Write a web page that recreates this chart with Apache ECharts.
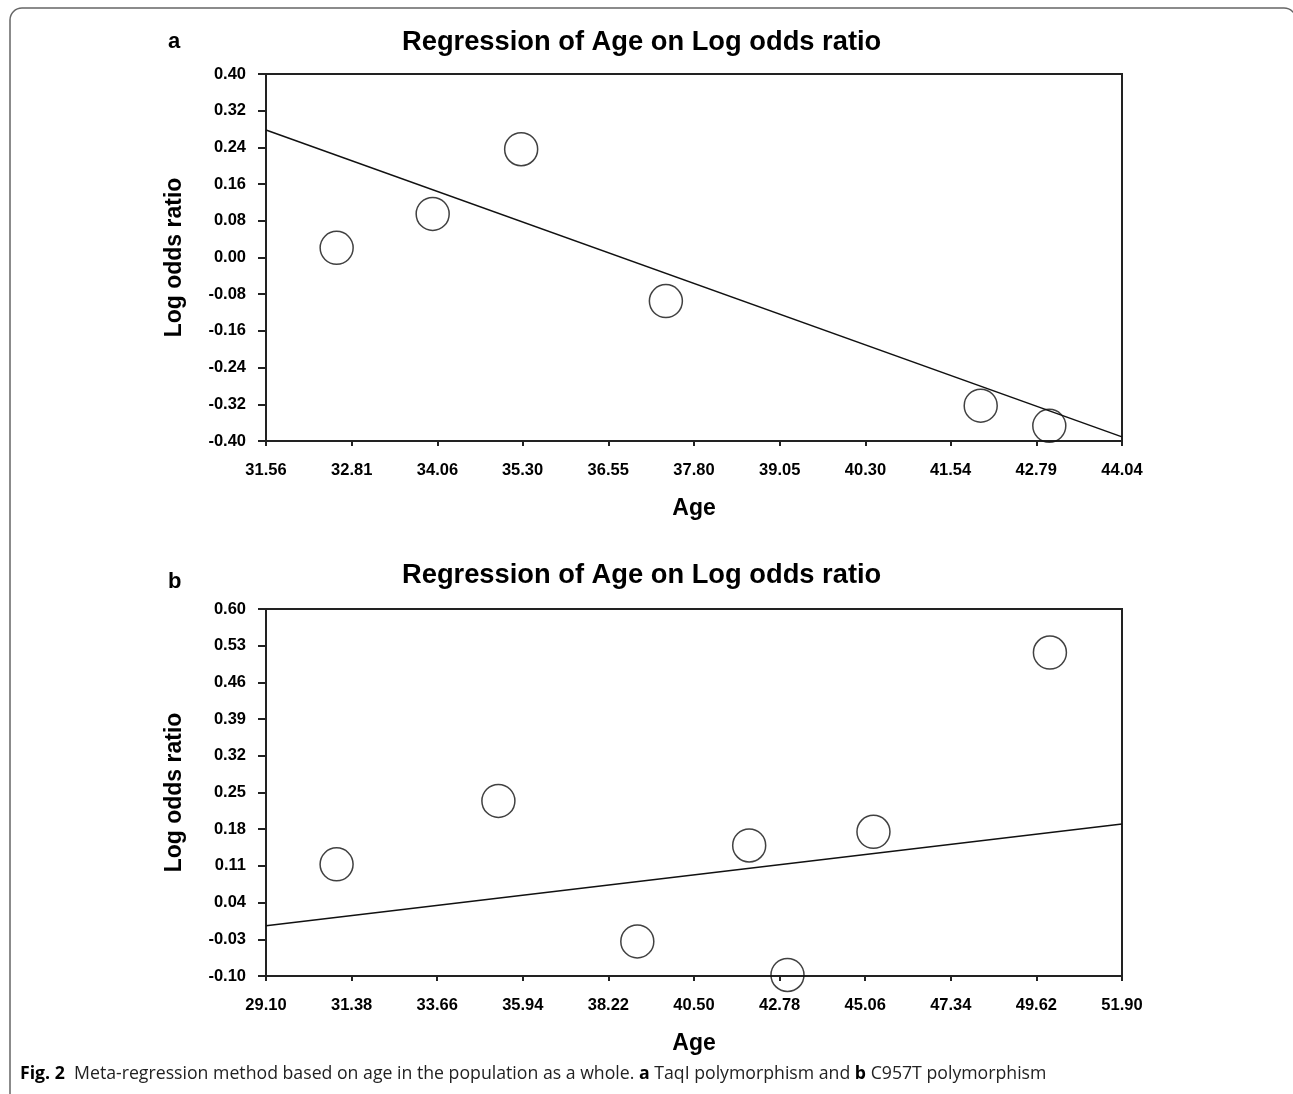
<!DOCTYPE html>
<html>
<head>
<meta charset="utf-8">
<script src="https://cdn.jsdelivr.net/npm/echarts@6/dist/echarts.min.js"></script>
<style>
  html, body { margin: 0; padding: 0; background: #fff; }
  #chart { width: 1293px; height: 1094px; }
</style>
</head>
<body>
<div id="chart"></div>
<script>
// panel a: TaqI polymorphism
const ageA = [32.59, 33.99, 35.28, 37.39, 41.98, 42.98]
const lorA = [0.021, 0.095, 0.236, -0.095, -0.323, -0.367]
const fitXA = [31.56, 44.04]
const fitYA = [0.278, -0.391]
const xTicksA = [31.56, 32.81, 34.06, 35.30, 36.55, 37.80, 39.05, 40.30, 41.54, 42.79, 44.04]
const yTicksA = [-0.40, -0.32, -0.24, -0.16, -0.08, 0.00, 0.08, 0.16, 0.24, 0.32, 0.40]

// panel b: C957T polymorphism
const ageB = [30.98, 35.29, 38.99, 41.97, 42.99, 45.28, 49.98]
const lorB = [0.113, 0.234, -0.034, 0.149, -0.098, 0.175, 0.517]
const fitXB = [29.10, 51.90]
const fitYB = [-0.004, 0.190]
const xTicksB = [29.10, 31.38, 33.66, 35.94, 38.22, 40.50, 42.78, 45.06, 47.34, 49.62, 51.90]
const yTicksB = [-0.10, -0.03, 0.04, 0.11, 0.18, 0.25, 0.32, 0.39, 0.46, 0.53, 0.60]

const font = 'Liberation Sans, Arial, sans-serif'
const chart = echarts.init(document.getElementById('chart'))

function xAxisFor (idx, ticks) {
  return {
    type: 'value',
    gridIndex: idx,
    min: ticks[0],
    max: ticks[ticks.length - 1],
    name: 'Age',
    nameLocation: 'middle',
    nameGap: 56,
    nameTextStyle: { fontFamily: font, fontWeight: 'bold', fontSize: 23, color: '#000' },
    splitLine: { show: false },
    axisLine: { onZero: false, lineStyle: { color: '#222', width: 2 } },
    axisTick: { customValues: ticks, length: 5, lineStyle: { color: '#222', width: 2 } },
    axisLabel: {
      customValues: ticks,
      formatter: v => v.toFixed(2),
      margin: 21,
      fontFamily: font, fontWeight: 'bold', fontSize: 16.5, color: '#000'
    }
  }
}

function yAxisFor (idx, ticks) {
  return {
    type: 'value',
    gridIndex: idx,
    min: ticks[0],
    max: ticks[ticks.length - 1],
    name: 'Log odds ratio',
    nameLocation: 'middle',
    nameRotate: 90,
    nameGap: 80,
    nameTextStyle: { fontFamily: font, fontWeight: 'bold', fontSize: 23, color: '#000' },
    splitLine: { show: false },
    axisLine: { show: true, onZero: false, lineStyle: { color: '#222', width: 2 } },
    axisTick: { show: true, customValues: ticks, length: 8, lineStyle: { color: '#222', width: 2 } },
    axisLabel: {
      customValues: ticks,
      formatter: v => v.toFixed(2),
      margin: 20,
      fontFamily: font, fontWeight: 'bold', fontSize: 16.5, color: '#000'
    }
  }
}

function pts (xs, ys) { return xs.map((x, i) => [x, ys[i]]) }

const circleStyle = { color: 'rgba(0,0,0,0)', borderColor: '#111', borderWidth: 1.5 }
const titleStyle = { fontFamily: font, fontWeight: 'bold', fontSize: 27.3, color: '#000' }

chart.setOption({
  animation: false,
  backgroundColor: '#fff',
  title: [
    { text: 'Regression of Age on Log odds ratio', left: 397, top: 24, textStyle: titleStyle },
    { text: 'Regression of Age on Log odds ratio', left: 397, top: 557, textStyle: titleStyle }
  ],
  grid: [
    { left: 266, top: 74, width: 856, height: 367, show: true, borderColor: '#222', borderWidth: 2 },
    { left: 266, top: 609, width: 856, height: 367, show: true, borderColor: '#222', borderWidth: 2 }
  ],
  xAxis: [xAxisFor(0, xTicksA), xAxisFor(1, xTicksB)],
  yAxis: [yAxisFor(0, yTicksA), yAxisFor(1, yTicksB)],
  series: [
    { type: 'line', xAxisIndex: 0, yAxisIndex: 0, data: pts(fitXA, fitYA), symbol: 'none',
      lineStyle: { color: '#111', width: 1.5 } },
    { type: 'scatter', xAxisIndex: 0, yAxisIndex: 0, data: pts(ageA, lorA), symbolSize: 33,
      itemStyle: circleStyle },
    { type: 'line', xAxisIndex: 1, yAxisIndex: 1, data: pts(fitXB, fitYB), symbol: 'none',
      lineStyle: { color: '#111', width: 1.5 } },
    { type: 'scatter', xAxisIndex: 1, yAxisIndex: 1, data: pts(ageB, lorB), symbolSize: 33,
      itemStyle: circleStyle }
  ],
  graphic: [
    { type: 'rect', shape: { x: 10, y: 8, width: 1286, height: 1110, r: 12 },
      style: { fill: 'none', stroke: '#666', lineWidth: 1.5 }, z: -1 },
    { type: 'text', left: 168, top: 31,
      style: { text: 'a', font: 'bold 22px Liberation Sans', fill: '#000' } },
    { type: 'text', left: 168, top: 571,
      style: { text: 'b', font: 'bold 22px Liberation Sans', fill: '#000' } },
    { type: 'text', left: 20, top: 1065,
      style: {
        text: '{b|Fig. 2}  Meta-regression method based on age in the population as a whole. {b|a} TaqI polymorphism and {b|b} C957T polymorphism',
        font: '17.7px Open Sans',
        fill: '#222',
        rich: { b: { fontWeight: 'bold', fontFamily: 'Open Sans', fontSize: 17.7, fill: '#000' } }
      } }
  ]
})
</script>
</body>
</html>
